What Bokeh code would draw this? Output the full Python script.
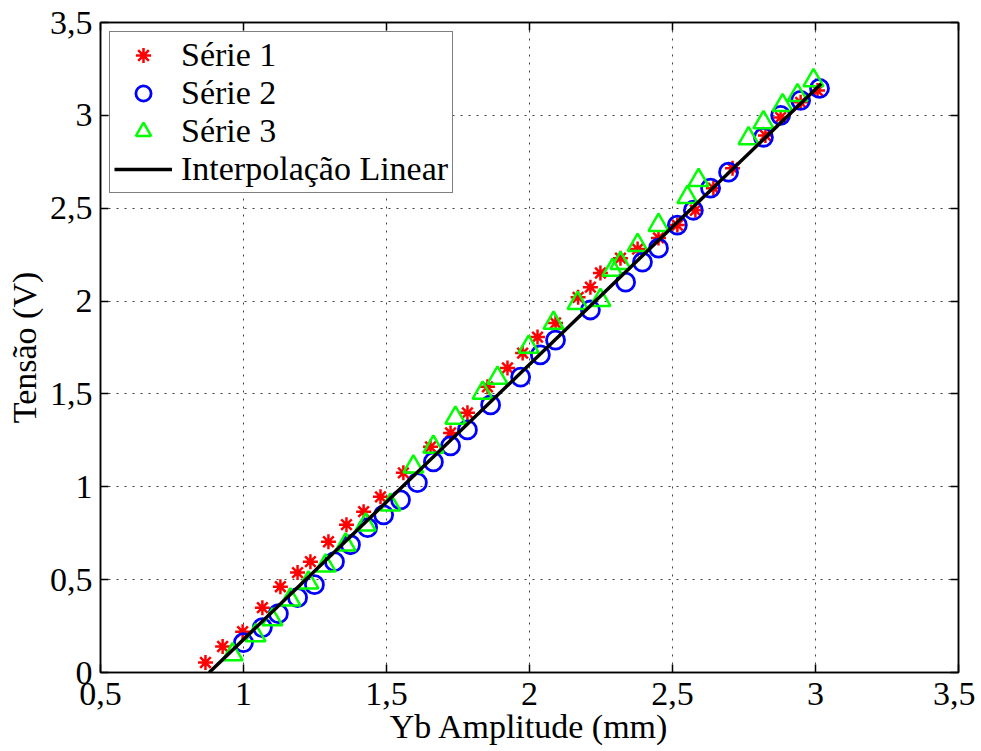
from bokeh.plotting import figure
from bokeh.models import LinearAxis, FixedTicker, Range1d, Legend, LegendItem
from bokeh.embed import file_html
from bokeh.resources import INLINE

# Série 1 (red asterisks)
s1_x = [0.867, 0.927, 0.997, 1.066, 1.129, 1.189, 1.234, 1.297, 1.360, 1.420, 1.479,
        1.559, 1.654, 1.724, 1.783, 1.853, 1.923, 1.976, 2.028, 2.091, 2.170, 2.213,
        2.248, 2.318, 2.378, 2.451, 2.517, 2.580, 2.643, 2.710, 2.825, 2.878, 2.948, 3.007]
s1_y = [0.054, 0.140, 0.220, 0.349, 0.462, 0.538, 0.597, 0.704, 0.796, 0.866, 0.946,
        1.075, 1.215, 1.290, 1.398, 1.538, 1.640, 1.720, 1.806, 1.882, 2.020, 2.075,
        2.151, 2.231, 2.280, 2.340, 2.409, 2.489, 2.608, 2.715, 2.892, 2.989, 3.070, 3.134]

# Série 2 (blue circles)
s2_x = [1.000, 1.066, 1.122, 1.189, 1.248, 1.318, 1.374, 1.434, 1.490, 1.549, 1.608,
        1.664, 1.724, 1.783, 1.864, 1.969, 2.038, 2.091, 2.213, 2.336, 2.395, 2.451,
        2.517, 2.573, 2.633, 2.696, 2.818, 2.878, 2.948, 3.014]
s2_y = [0.161, 0.242, 0.317, 0.403, 0.473, 0.597, 0.688, 0.780, 0.849, 0.930, 1.022,
        1.134, 1.220, 1.306, 1.441, 1.591, 1.710, 1.790, 1.952, 2.102, 2.210, 2.285,
        2.409, 2.489, 2.608, 2.694, 2.882, 3.000, 3.081, 3.145]

# Série 3 (green triangles)
s3_x = [0.962, 1.042, 1.101, 1.164, 1.227, 1.287, 1.357, 1.427, 1.514, 1.594, 1.664,
        1.741, 1.836, 1.888, 1.997, 2.084, 2.168, 2.248, 2.290, 2.318, 2.378, 2.451,
        2.552, 2.591, 2.766, 2.818, 2.885, 2.937, 2.993]
s3_y = [0.097, 0.199, 0.285, 0.392, 0.484, 0.575, 0.688, 0.796, 0.903, 1.108, 1.215,
        1.371, 1.505, 1.586, 1.753, 1.882, 1.989, 2.005, 2.167, 2.204, 2.301, 2.409,
        2.559, 2.651, 2.876, 2.962, 3.054, 3.108, 3.188]

# Interpolação Linear (endpoints)
fit_x = [0.88, 3.02]
fit_y = [0.0, 3.17]

x_ticks = [0.5, 1.0, 1.5, 2.0, 2.5, 3.0, 3.5]
x_labels = ["0,5", "1", "1,5", "2", "2,5", "3", "3,5"]
y_ticks = [0.0, 0.5, 1.0, 1.5, 2.0, 2.5, 3.0, 3.5]
y_labels = ["0", "0,5", "1", "1,5", "2", "2,5", "3", "3,5"]

FONT = "Liberation Serif"
FS = "34px"

p = figure(width=975, height=747, output_backend="svg", toolbar_location=None,
           x_range=Range1d(0.5, 3.5), y_range=Range1d(0, 3.5),
           min_border_left=100, min_border_right=17, min_border_top=22, min_border_bottom=74)
p.outline_line_color = "black"
p.outline_line_width = 1.5
p.background_fill_color = "white"
p.border_fill_color = "white"

bottom = p.below[0]
left = p.left[0]

xt = FixedTicker(ticks=x_ticks)
yt = FixedTicker(ticks=y_ticks)

bottom.ticker = xt
bottom.major_label_overrides = {float(t): l for t, l in zip(x_ticks, x_labels)}
left.ticker = yt
left.major_label_overrides = {float(t): l for t, l in zip(y_ticks, y_labels)}

bottom.axis_label = "Yb Amplitude (mm)"
left.axis_label = "Tensão (V)"

top = LinearAxis(ticker=FixedTicker(ticks=x_ticks),
                 major_label_overrides={float(t): "" for t in x_ticks})
right = LinearAxis(ticker=FixedTicker(ticks=y_ticks),
                   major_label_overrides={float(t): "" for t in y_ticks})
p.add_layout(top, "above")
p.add_layout(right, "right")

for ax in [bottom, left, top, right]:
    ax.major_tick_in = 8
    ax.major_tick_out = 0
    ax.minor_tick_in = 0
    ax.minor_tick_out = 0
    ax.axis_line_color = "black"
    ax.axis_line_width = 1.5
    ax.major_tick_line_color = "black"
    ax.major_tick_line_width = 1.5
    ax.major_label_text_font = FONT
    ax.major_label_text_color = "black"
    ax.axis_label_text_font = FONT
    ax.axis_label_text_font_style = "normal"
    ax.axis_label_text_color = "black"
    ax.axis_label_text_font_size = FS
    ax.major_label_text_font_size = FS

top.major_label_standoff = 0
right.major_label_standoff = 0
bottom.major_label_standoff = 10
left.major_label_standoff = 8
bottom.axis_label_standoff = 0
left.axis_label_standoff = 4

p.grid.grid_line_color = "black"
p.grid.grid_line_alpha = 0.75
p.grid.grid_line_dash = "2 6"
p.grid.grid_line_width = 1
p.xgrid.ticker = xt
p.ygrid.ticker = yt

r1 = p.scatter(s1_x, s1_y, marker="asterisk", size=15, line_color="red", line_width=2.5)
r2 = p.scatter(s2_x, s2_y, marker="circle", size=18, line_color="blue", fill_color=None, line_width=2.8)
r3 = p.scatter(s3_x, s3_y, marker="triangle", size=20, line_color="#00ff00", fill_color=None, line_width=2.5)
r4 = p.line(fit_x, fit_y, line_color="black", line_width=3.5)

legend = Legend(items=[
    LegendItem(label="Série 1", renderers=[r1]),
    LegendItem(label="Série 2", renderers=[r2]),
    LegendItem(label="Série 3", renderers=[r3]),
    LegendItem(label="Interpolação Linear", renderers=[r4]),
], location="top_left")
legend.label_text_font = FONT
legend.label_text_font_size = FS
legend.label_text_color = "black"
legend.border_line_color = "black"
legend.border_line_width = 1.5
legend.background_fill_alpha = 1
legend.margin = 9
legend.padding = 4
legend.spacing = 0
legend.glyph_width = 58
legend.glyph_height = 38
legend.label_height = 38
legend.label_standoff = 9
p.add_layout(legend)

open("out.html", "w").write(file_html(p, INLINE))
